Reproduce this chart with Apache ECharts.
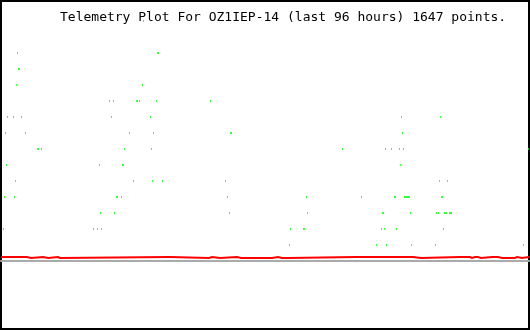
<!DOCTYPE html>
<html>
<head>
<meta charset="utf-8">
<script src="https://cdn.jsdelivr.net/npm/echarts@6/dist/echarts.min.js"></script>
<style>html,body{margin:0;padding:0;background:#fff}#c{width:530px;height:330px}</style>
</head>
<body>
<div id="c"></div>
<script>
// Title
var titleText = 'Telemetry Plot For OZ1IEP-14 (last 96 hours) 1647 points.';

// Green telemetry readings: x in hours (0..96), y in level units
var greenHours = [
  25.91,
  3.0, 28.45, 28.64,
  3.18, 3.36,
  2.82, 25.73,
  19.73, 20.45, 24.64, 24.82, 25.18, 28.27, 38.09,
  1.18, 2.27, 3.73, 20.09, 27.18, 72.82, 79.91,
  0.82, 4.45, 23.36, 27.73, 41.73, 41.91, 73.0,
  6.64, 6.82, 7.36, 22.45, 27.36, 62.09, 69.91, 71.0, 72.45, 73.18, 95.91,
  1.0, 17.91, 22.09, 22.27, 72.64,
  2.64, 24.09, 27.55, 29.36, 40.82, 79.73, 81.18,
  0.64, 2.45, 21.0, 21.18, 21.91, 41.18, 55.55, 65.55, 71.55, 71.73, 73.36, 73.55, 73.73, 73.91, 74.09, 74.27, 80.09, 80.27,
  18.09, 20.64, 41.55, 55.73, 69.36, 69.55, 74.45, 79.18, 79.55, 80.64, 80.82, 81.0, 81.55, 81.73, 81.91,
  0.45, 16.82, 17.55, 18.27, 52.64, 55.0, 55.18, 69.18, 69.73, 71.91, 80.45,
  52.45, 68.27, 70.09, 74.64, 79.0, 95.0
];
var greenLevels = [
  15,
  13, 13, 13,
  12, 12,
  11, 11,
  10, 10, 10, 10, 10, 10, 10,
  9, 9, 9, 9, 9, 9, 9,
  8, 8, 8, 8, 8, 8, 8,
  7, 7, 7, 7, 7, 7, 7, 7, 7, 7, 7,
  6, 6, 6, 6, 6,
  5, 5, 5, 5, 5, 5, 5,
  4, 4, 4, 4, 4, 4, 4, 4, 4, 4, 4, 4, 4, 4, 4, 4, 4, 4,
  3, 3, 3, 3, 3, 3, 3, 3, 3, 3, 3, 3, 3, 3, 3,
  2, 2, 2, 2, 2, 2, 2, 2, 2, 2, 2,
  1, 1, 1, 1, 1, 1
];

// Red telemetry trace: segment start hours and the value held over each segment
var redHours = [0, 4.73, 4.91, 5.09, 5.45, 7.64, 8.55, 10.36, 10.73, 30.36, 30.55, 30.73,
  37.82, 38.36, 39.82, 42.91, 43.64, 43.82, 47.09, 47.45, 49.27, 50.36, 51.09, 51.45, 52.18,
  64.55, 64.73, 70.55, 70.73, 74.91, 75.09, 75.27, 76.36, 83.45, 83.64, 85.27, 85.64, 86.18,
  86.36, 86.73, 87.27, 89.27, 89.45, 89.64, 90.0, 90.36, 91.09, 91.27, 93.45, 93.82, 94.73, 96];
var redValues = [0.25, 0.1875, 0.25, 0.1875, 0.25, 0.1875, 0.25, 0.1875, 0.25, 0.1875, 0.25, 0.1875,
  0.25, 0.1875, 0.25, 0.1875, 0.25, 0.1875, 0.25, 0.1875, 0.25, 0.1875, 0.25, 0.1875, 0.25,
  0.1875, 0.25, 0.1875, 0.25, 0.1875, 0.25, 0.1875, 0.25, 0.1875, 0.25, 0.1875, 0.25, 0.1875,
  0.25, 0.1875, 0.25, 0.1875, 0.25, 0.1875, 0.25, 0.1875, 0.25, 0.1875, 0.25, 0.1875, 0.25, 0.25];

var greenData = greenHours.map(function (h, i) { return [h, greenLevels[i]]; });
// each held value spans from its start hour to the next start hour
var redData = [];
for (var i = 0; i < redHours.length - 1; i++) {
  redData.push([redHours[i], redValues[i]]);
  redData.push([redHours[i + 1], redValues[i]]);
}

var chart = echarts.init(document.getElementById('c'), null, {renderer: 'canvas'});
chart.setOption({
  animation: false,
  backgroundColor: '#ffffff',
  title: {
    text: titleText,
    left: 60,
    top: 11,
    padding: 0,
    textStyle: {fontFamily: 'DejaVu Sans Mono', fontSize: 13, fontWeight: 'normal', color: '#000'}
  },
  graphic: [{
    type: 'rect', z: -10,
    shape: {x: 1, y: 1, width: 528, height: 328},
    style: {fill: 'none', stroke: '#000', lineWidth: 2}
  }],
  grid: {left: 1, right: 1, top: 21, bottom: 69},
  xAxis: {
    type: 'value', min: 0, max: 96,
    axisLine: {show: true, lineStyle: {color: '#aaaaaa', width: 2}},
    axisTick: {show: false}, axisLabel: {show: false}, splitLine: {show: false}
  },
  yAxis: {
    type: 'value', min: 0, max: 15,
    axisLine: {show: false}, axisTick: {show: false}, axisLabel: {show: false}, splitLine: {show: false}
  },
  series: [{
    type: 'line',
    data: redData,
    smooth: false,
    showSymbol: false,
    lineStyle: {color: '#ff0000', width: 2, join: 'miter', cap: 'butt'},
    z: 3
  }, {
    type: 'scatter',
    data: greenData,
    symbol: 'rect',
    symbolSize: [1, 2],
    clip: false,
    itemStyle: {color: '#00ff00'},
    z: 4
  }]
});
</script>
</body>
</html>
